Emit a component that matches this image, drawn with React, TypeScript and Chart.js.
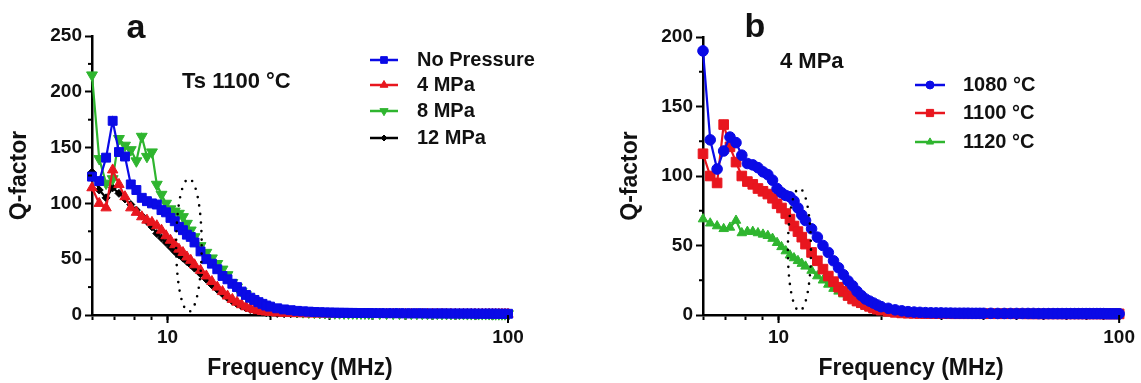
import React, { useEffect, useRef } from 'react';
import { Chart, registerables } from 'chart.js';

Chart.register(...registerables);

// ---------------- data ----------------
const freqMHz = [
  6.0, 6.3, 6.6, 6.9, 7.2, 7.5, 7.8, 8.1, 8.4, 8.7,
  9.0, 9.3, 9.6, 9.9, 10.2, 10.5, 10.8, 11.1, 11.4, 11.7,
  12.0, 12.5, 13, 13.5, 14, 14.5, 15, 15.5, 16, 16.5,
  17, 17.5, 18, 18.5, 19, 19.5, 20, 21, 22, 23,
  24, 25, 26, 27, 28, 29, 30, 31, 32, 33,
  34, 35, 36, 37, 38, 39, 40, 42, 44, 46,
  48, 50, 52, 54, 56, 58, 60, 62, 64, 66,
  68, 70, 72, 74, 76, 78, 80, 82, 84, 86,
  88, 90, 92, 94, 96, 98, 100,
];

// panel a (Ts 1100 °C)
const qNoPressure = [
  124, 120, 141, 174, 146, 142, 117, 112, 105, 102,
  100, 99, 94, 92, 87, 84, 79, 76, 72, 70,
  65, 57, 50, 46, 41, 35, 32, 28, 25, 21,
  18, 15.5, 13.5, 11.5, 10, 8.5, 7.5, 6, 5, 4.3,
  3.7, 3.3, 3, 2.7, 2.5, 2.3, 2.2, 2.1, 2, 2,
  1.9, 1.9, 1.8, 1.8, 1.8, 1.7, 1.7, 1.7, 1.6, 1.6,
  1.6, 1.5, 1.5, 1.5, 1.5, 1.4, 1.4, 1.4, 1.4, 1.4,
  1.3, 1.3, 1.3, 1.3, 1.3, 1.3, 1.2, 1.2, 1.2, 1.2,
  1.2, 1.2, 1.2, 1.1, 1.1, 1.1, 1.1,
];
const q4MPa = [
  114, 100, 96, 130, 117, 106, 96, 92, 88, 85,
  83, 80, 76, 71, 67, 63, 59, 56, 52, 49,
  45, 40, 35, 30, 25, 21, 17, 14, 11.5, 9.2,
  7.4, 6, 4.8, 3.9, 3.2, 2.7, 2.3, 1.8, 1.5, 1.3,
  1.2, 1.1, 1, 1, 0.9, 0.9, 0.9, 0.9, 0.9, 0.8,
  0.8, 0.8, 0.8, 0.8, 0.8, 0.8, 0.8, 0.8, 0.8, 0.8,
  0.7, 0.7, 0.7, 0.7, 0.7, 0.7, 0.7, 0.7, 0.7, 0.7,
  0.7, 0.7, 0.7, 0.7, 0.7, 0.7, 0.7, 0.7, 0.7, 0.7,
  0.7, 0.7, 0.7, 0.7, 0.7, 0.7, 0.7,
];
const q8MPa = [
  215, 140, 118, 122, 158, 152, 148, 138, 160, 142,
  146, 117, 108, 100, 95, 93, 91, 88, 82, 76,
  70, 62, 56, 51, 46, 41, 36, 29, 25, 21,
  18, 15, 13, 11, 9.3, 8, 7, 5.5, 4.5, 3.8,
  3.2, 2.8, 2.5, 2.3, 2.1, 2, 1.9, 1.8, 1.8, 1.7,
  1.7, 1.7, 1.6, 1.6, 1.6, 1.5, 1.5, 1.5, 1.5, 1.4,
  1.4, 1.4, 1.4, 1.3, 1.3, 1.3, 1.3, 1.3, 1.2, 1.2,
  1.2, 1.2, 1.2, 1.2, 1.1, 1.1, 1.1, 1.1, 1.1, 1.1,
  1.1, 1.0, 1.0, 1.0, 1.0, 1.0, 1.0,
];
const q12MPa = [
  128, 112, 105, 114, 109, 104, 99, 94, 89, 84,
  79, 73, 69, 65, 61, 57, 54, 51, 48, 45,
  42, 37, 32, 27, 23, 19, 15.5, 12.5, 10, 8,
  6.3, 5, 4, 3.2, 2.6, 2.1, 1.8, 1.4, 1.2, 1.1,
  1, 0.9, 0.9, 0.9, 0.8, 0.8, 0.8, 0.8, 0.8, 0.7,
  0.7, 0.7, 0.7, 0.7, 0.7, 0.7, 0.7, 0.7, 0.7, 0.7,
  0.7, 0.7, 0.7, 0.7, 0.6, 0.6, 0.6, 0.6, 0.6, 0.6,
  0.6, 0.6, 0.6, 0.6, 0.6, 0.6, 0.6, 0.6, 0.6, 0.6,
  0.6, 0.6, 0.6, 0.6, 0.6, 0.6, 0.6,
];

// panel b (4 MPa)
const q1080C = [
  190, 126, 105, 118, 128, 124, 115, 109, 108, 106,
  103, 101, 97, 91, 88, 86, 85, 82, 77, 72,
  68, 62, 56, 50, 45, 39, 34, 29, 24.5, 21,
  17, 14, 11.5, 10, 8.6, 7.2, 6, 4.8, 3.7, 3,
  2.4, 2.1, 1.9, 1.7, 1.6, 1.5, 1.5, 1.4, 1.4, 1.3,
  1.3, 1.3, 1.3, 1.2, 1.2, 1.2, 1.2, 1.2, 1.1, 1.1,
  1.1, 1.1, 1.1, 1.1, 1.1, 1.0, 1.0, 1.0, 1.0, 1.0,
  1.0, 1.0, 1.0, 1.0, 1.0, 1.0, 1.0, 1.0, 1.0, 1.0,
  1.0, 1.0, 0.9, 0.9, 0.9, 0.9, 0.9,
];
const q1100C = [
  116, 100, 95, 137, 121, 110, 100, 96, 94, 91,
  89, 87, 84, 80, 77, 73, 69, 64, 60, 56,
  51, 45, 39, 33, 28, 24, 20, 17, 14, 11.5,
  10, 8.8, 7.5, 6.2, 5, 4.2, 3.5, 2.6, 1.9, 1.5,
  1.3, 1.2, 1.1, 1.1, 1, 1, 1, 1, 0.9, 0.9,
  0.9, 0.9, 0.9, 0.9, 0.9, 0.9, 0.9, 0.9, 0.9, 0.9,
  0.9, 0.9, 0.9, 0.8, 0.8, 0.8, 0.8, 0.8, 0.8, 0.8,
  0.8, 0.8, 0.8, 0.8, 0.8, 0.8, 0.8, 0.8, 0.8, 0.8,
  0.8, 0.8, 0.8, 0.8, 0.8, 0.8, 0.8,
];
const q1120C = [
  69, 66, 64, 62, 63, 68, 59, 60, 60, 59,
  58, 57, 55, 52, 49, 46, 43, 41, 39, 37,
  35, 32, 28, 25, 22, 19, 17, 15, 13, 11,
  9, 7.5, 6.3, 5.2, 4.3, 3.6, 3, 2.2, 1.7, 1.4,
  1.2, 1.1, 1, 1, 1, 0.9, 0.9, 0.9, 0.9, 0.9,
  0.9, 0.8, 0.8, 0.8, 0.8, 0.8, 0.8, 0.8, 0.8, 0.8,
  0.8, 0.8, 0.8, 0.8, 0.8, 0.8, 0.8, 0.8, 0.8, 0.8,
  0.8, 0.8, 0.8, 0.8, 0.8, 0.8, 0.8, 0.8, 0.8, 0.8,
  0.8, 0.8, 0.8, 0.8, 0.8, 0.8, 0.8,
];

const xTickValues = [6, 7, 8, 9, 10, 20, 30, 40, 50, 60, 70, 80, 90, 100];
const xLabeledTicks = [10, 100];
const yTicksA = [0, 50, 100, 150, 200, 250];
const yMinorA = [25, 75, 125, 175, 225];
const yTicksB = [0, 50, 100, 150, 200];
const yMinorB = [25, 75, 125, 175];

// ---------------- styles ----------------
const FONT = '"Liberation Sans", Arial, Helvetica, sans-serif';
const BLUE = '#0a0ae6';
const RED = '#e8161e';
const GREEN = '#2fb52f';
const BLACK = '#000000';
const TEXT = '#111111';

type SeriesDef = {
  label: string;
  values: number[];
  color: string;
  pointStyle: string;
  radius: number;
  rotation: number;
};

type PanelDef = {
  left: number;
  width: number;
  padRight: number;
  padTop: number;
  yMax: number;
  yTicks: number[];
  yMinor: number[];
  series: SeriesDef[];
  letter: string;
  letterX: number;
  letterY: number;
  note: string;
  noteX: number;
  noteY: number;
  legendX1: number;
  legendX2: number;
  legendTextX: number;
  legendRows: number[];
  ellipse: { fMin: number; fMax: number; qMin: number; qMax: number };
};

const panelA: PanelDef = {
  left: 0,
  width: 570,
  padRight: 62,
  padTop: 36,
  yMax: 250,
  yTicks: yTicksA,
  yMinor: yMinorA,
  series: [
    { label: 'No Pressure', values: qNoPressure, color: BLUE, pointStyle: 'rect', radius: 6.3, rotation: 0 },
    { label: '4 MPa', values: q4MPa, color: RED, pointStyle: 'triangle', radius: 6, rotation: 0 },
    { label: '8 MPa', values: q8MPa, color: GREEN, pointStyle: 'triangle', radius: 6.3, rotation: 180 },
    { label: '12 MPa', values: q12MPa, color: BLACK, pointStyle: 'rectRot', radius: 4, rotation: 0 },
  ],
  letter: 'a',
  letterX: 136,
  letterY: 38,
  note: 'Ts 1100 \u00b0C',
  noteX: 182,
  noteY: 88,
  legendX1: 370,
  legendX2: 398,
  legendTextX: 417,
  legendRows: [60, 85, 111, 138],
  ellipse: { fMin: 10.6, fMax: 12.6, qMin: 3, qMax: 122 },
};

const panelB: PanelDef = {
  left: 611,
  width: 530,
  padRight: 21,
  padTop: 37,
  yMax: 200,
  yTicks: yTicksB,
  yMinor: yMinorB,
  series: [
    { label: '1080 \u00b0C', values: q1080C, color: BLUE, pointStyle: 'circle', radius: 5.3, rotation: 0 },
    { label: '1100 \u00b0C', values: q1100C, color: RED, pointStyle: 'rect', radius: 6.8, rotation: 0 },
    { label: '1120 \u00b0C', values: q1120C, color: GREEN, pointStyle: 'triangle', radius: 5.5, rotation: 0 },
  ],
  letter: 'b',
  letterX: 144,
  letterY: 37,
  note: '4 MPa',
  noteX: 169,
  noteY: 68,
  legendX1: 304,
  legendX2: 334,
  legendTextX: 352,
  legendRows: [85, 113, 142],
  ellipse: { fMin: 10.65, fMax: 12.45, qMin: 3, qMax: 91 },
};

function drawMarker(ctx: CanvasRenderingContext2D, style: string, x: number, y: number, r: number, rotation: number, color: string) {
  ctx.save();
  ctx.fillStyle = color;
  ctx.strokeStyle = color;
  ctx.lineWidth = 1;
  ctx.beginPath();
  if (style === 'rect') {
    const s = r * Math.SQRT1_2;
    ctx.rect(x - s, y - s, 2 * s, 2 * s);
  } else if (style === 'circle') {
    ctx.arc(x, y, r, 0, Math.PI * 2);
  } else if (style === 'triangle') {
    const a0 = (rotation * Math.PI) / 180;
    for (let i = 0; i < 3; i++) {
      const a = a0 + (i * 2 * Math.PI) / 3;
      const px = x + Math.sin(a) * r;
      const py = y - Math.cos(a) * r;
      if (i === 0) ctx.moveTo(px, py);
      else ctx.lineTo(px, py);
    }
    ctx.closePath();
  } else {
    ctx.moveTo(x, y - r);
    ctx.lineTo(x + r, y);
    ctx.lineTo(x, y + r);
    ctx.lineTo(x - r, y);
    ctx.closePath();
  }
  ctx.fill();
  ctx.stroke();
  ctx.restore();
}

function makeOverlay(p: PanelDef) {
  return {
    id: 'overlay',
    afterDatasetsDraw(chart: any) {
      const ctx: CanvasRenderingContext2D = chart.ctx;
      const xs = chart.scales.x;
      const ys = chart.scales.y;
      const area = chart.chartArea;
      ctx.save();
      // minor y ticks
      ctx.strokeStyle = '#000';
      ctx.lineWidth = 2;
      for (const v of p.yMinor) {
        const y = ys.getPixelForValue(v);
        ctx.beginPath();
        ctx.moveTo(area.left - 4, y);
        ctx.lineTo(area.left, y);
        ctx.stroke();
      }
      // longer ticks at labelled decades
      for (const v of xLabeledTicks) {
        const x = xs.getPixelForValue(v);
        ctx.beginPath();
        ctx.moveTo(x, area.bottom);
        ctx.lineTo(x, area.bottom + 8);
        ctx.stroke();
      }
      // dotted ellipse
      const e = p.ellipse;
      const x1 = xs.getPixelForValue(e.fMin);
      const x2 = xs.getPixelForValue(e.fMax);
      const y1 = ys.getPixelForValue(e.qMax);
      const y2 = ys.getPixelForValue(e.qMin);
      ctx.beginPath();
      ctx.setLineDash([0, 8.5]);
      ctx.lineCap = 'round';
      ctx.lineWidth = 2.6;
      ctx.strokeStyle = '#000';
      ctx.ellipse((x1 + x2) / 2, (y1 + y2) / 2, (x2 - x1) / 2, (y2 - y1) / 2, 0, 0, Math.PI * 2);
      ctx.stroke();
      ctx.setLineDash([]);
      ctx.lineCap = 'butt';
      // legend
      p.series.forEach((s, i) => {
        const y = p.legendRows[i];
        ctx.strokeStyle = s.color;
        ctx.lineWidth = 2.5;
        ctx.beginPath();
        ctx.moveTo(p.legendX1, y);
        ctx.lineTo(p.legendX2, y);
        ctx.stroke();
        drawMarker(ctx, s.pointStyle, (p.legendX1 + p.legendX2) / 2, y, s.radius * 0.75, s.rotation, s.color);
        ctx.fillStyle = TEXT;
        ctx.font = `bold 20px ${FONT}`;
        ctx.textAlign = 'left';
        ctx.textBaseline = 'middle';
        ctx.fillText(s.label, p.legendTextX, y);
      });
      // panel letter and note
      ctx.fillStyle = TEXT;
      ctx.textBaseline = 'alphabetic';
      ctx.textAlign = 'center';
      ctx.font = `bold 34px ${FONT}`;
      ctx.fillText(p.letter, p.letterX, p.letterY);
      ctx.textAlign = 'left';
      ctx.font = `bold 22px ${FONT}`;
      ctx.fillText(p.note, p.noteX, p.noteY);
      ctx.restore();
    },
  };
}

function Panel({ p }: { p: PanelDef }) {
  const ref = useRef<HTMLCanvasElement>(null);
  useEffect(() => {
    const canvas = ref.current;
    if (!canvas) return;
    const chart = new Chart(canvas, {
      type: 'line',
      data: {
        datasets: p.series.map((s) => ({
          label: s.label,
          data: freqMHz.map((f, i) => ({ x: f, y: s.values[i] })),
          borderColor: s.color,
          backgroundColor: s.color,
          pointBackgroundColor: s.color,
          pointBorderColor: s.color,
          pointStyle: s.pointStyle as any,
          pointRadius: s.radius,
          pointRotation: s.rotation,
          pointBorderWidth: 1,
          borderWidth: 2.2,
          tension: 0,
          clip: false as any,
        })),
      },
      options: {
        responsive: false,
        animation: false,
        devicePixelRatio: 1,
        layout: { padding: { left: 0, right: p.padRight, top: p.padTop, bottom: 0 } },
        plugins: { legend: { display: false }, tooltip: { enabled: false } },
        scales: {
          x: {
            type: 'logarithmic',
            min: 6,
            max: 100,
            afterBuildTicks: (s: any) => {
              s.ticks = xTickValues.map((v) => ({ value: v }));
            },
            afterFit: (s: any) => {
              s.height = 68;
            },
            grid: { display: true, drawOnChartArea: false, drawTicks: true, tickLength: 5, tickWidth: 2, tickColor: '#000' },
            border: { display: true, color: '#000', width: 2.5 },
            ticks: {
              autoSkip: false,
              maxRotation: 0,
              padding: 6,
              color: TEXT,
              font: { family: FONT, size: 19, weight: 'bold' },
              callback: (v: any) => (xLabeledTicks.includes(Number(v)) ? String(v) : ''),
            },
            title: {
              display: true,
              text: 'Frequency (MHz)',
              color: TEXT,
              font: { family: FONT, size: 23, weight: 'bold' },
              padding: { top: 0, bottom: 1 },
            },
          },
          y: {
            type: 'linear',
            min: 0,
            max: p.yMax,
            afterBuildTicks: (s: any) => {
              s.ticks = p.yTicks.map((v) => ({ value: v }));
            },
            afterFit: (s: any) => {
              s.width = 92;
            },
            grid: { display: true, drawOnChartArea: false, drawTicks: true, tickLength: 7, tickWidth: 2, tickColor: '#000' },
            border: { display: true, color: '#000', width: 2.5 },
            ticks: {
              padding: 3,
              color: TEXT,
              font: { family: FONT, size: 19, weight: 'bold' },
            },
            title: {
              display: true,
              text: 'Q-factor',
              color: TEXT,
              font: { family: FONT, size: 23, weight: 'bold' },
              padding: { top: 6, bottom: 0 },
            },
          },
        },
      } as any,
      plugins: [makeOverlay(p)],
    });
    return () => chart.destroy();
  }, [p]);
  return (
    <canvas
      ref={ref}
      width={p.width}
      height={383}
      style={{ position: 'absolute', left: p.left, top: 0, width: p.width, height: 383 }}
    />
  );
}

export default function App() {
  return (
    <div style={{ position: 'absolute', left: 0, top: 0, width: 1141, height: 383, background: '#ffffff', overflow: 'hidden' }}>
      <Panel p={panelA} />
      <Panel p={panelB} />
    </div>
  );
}
